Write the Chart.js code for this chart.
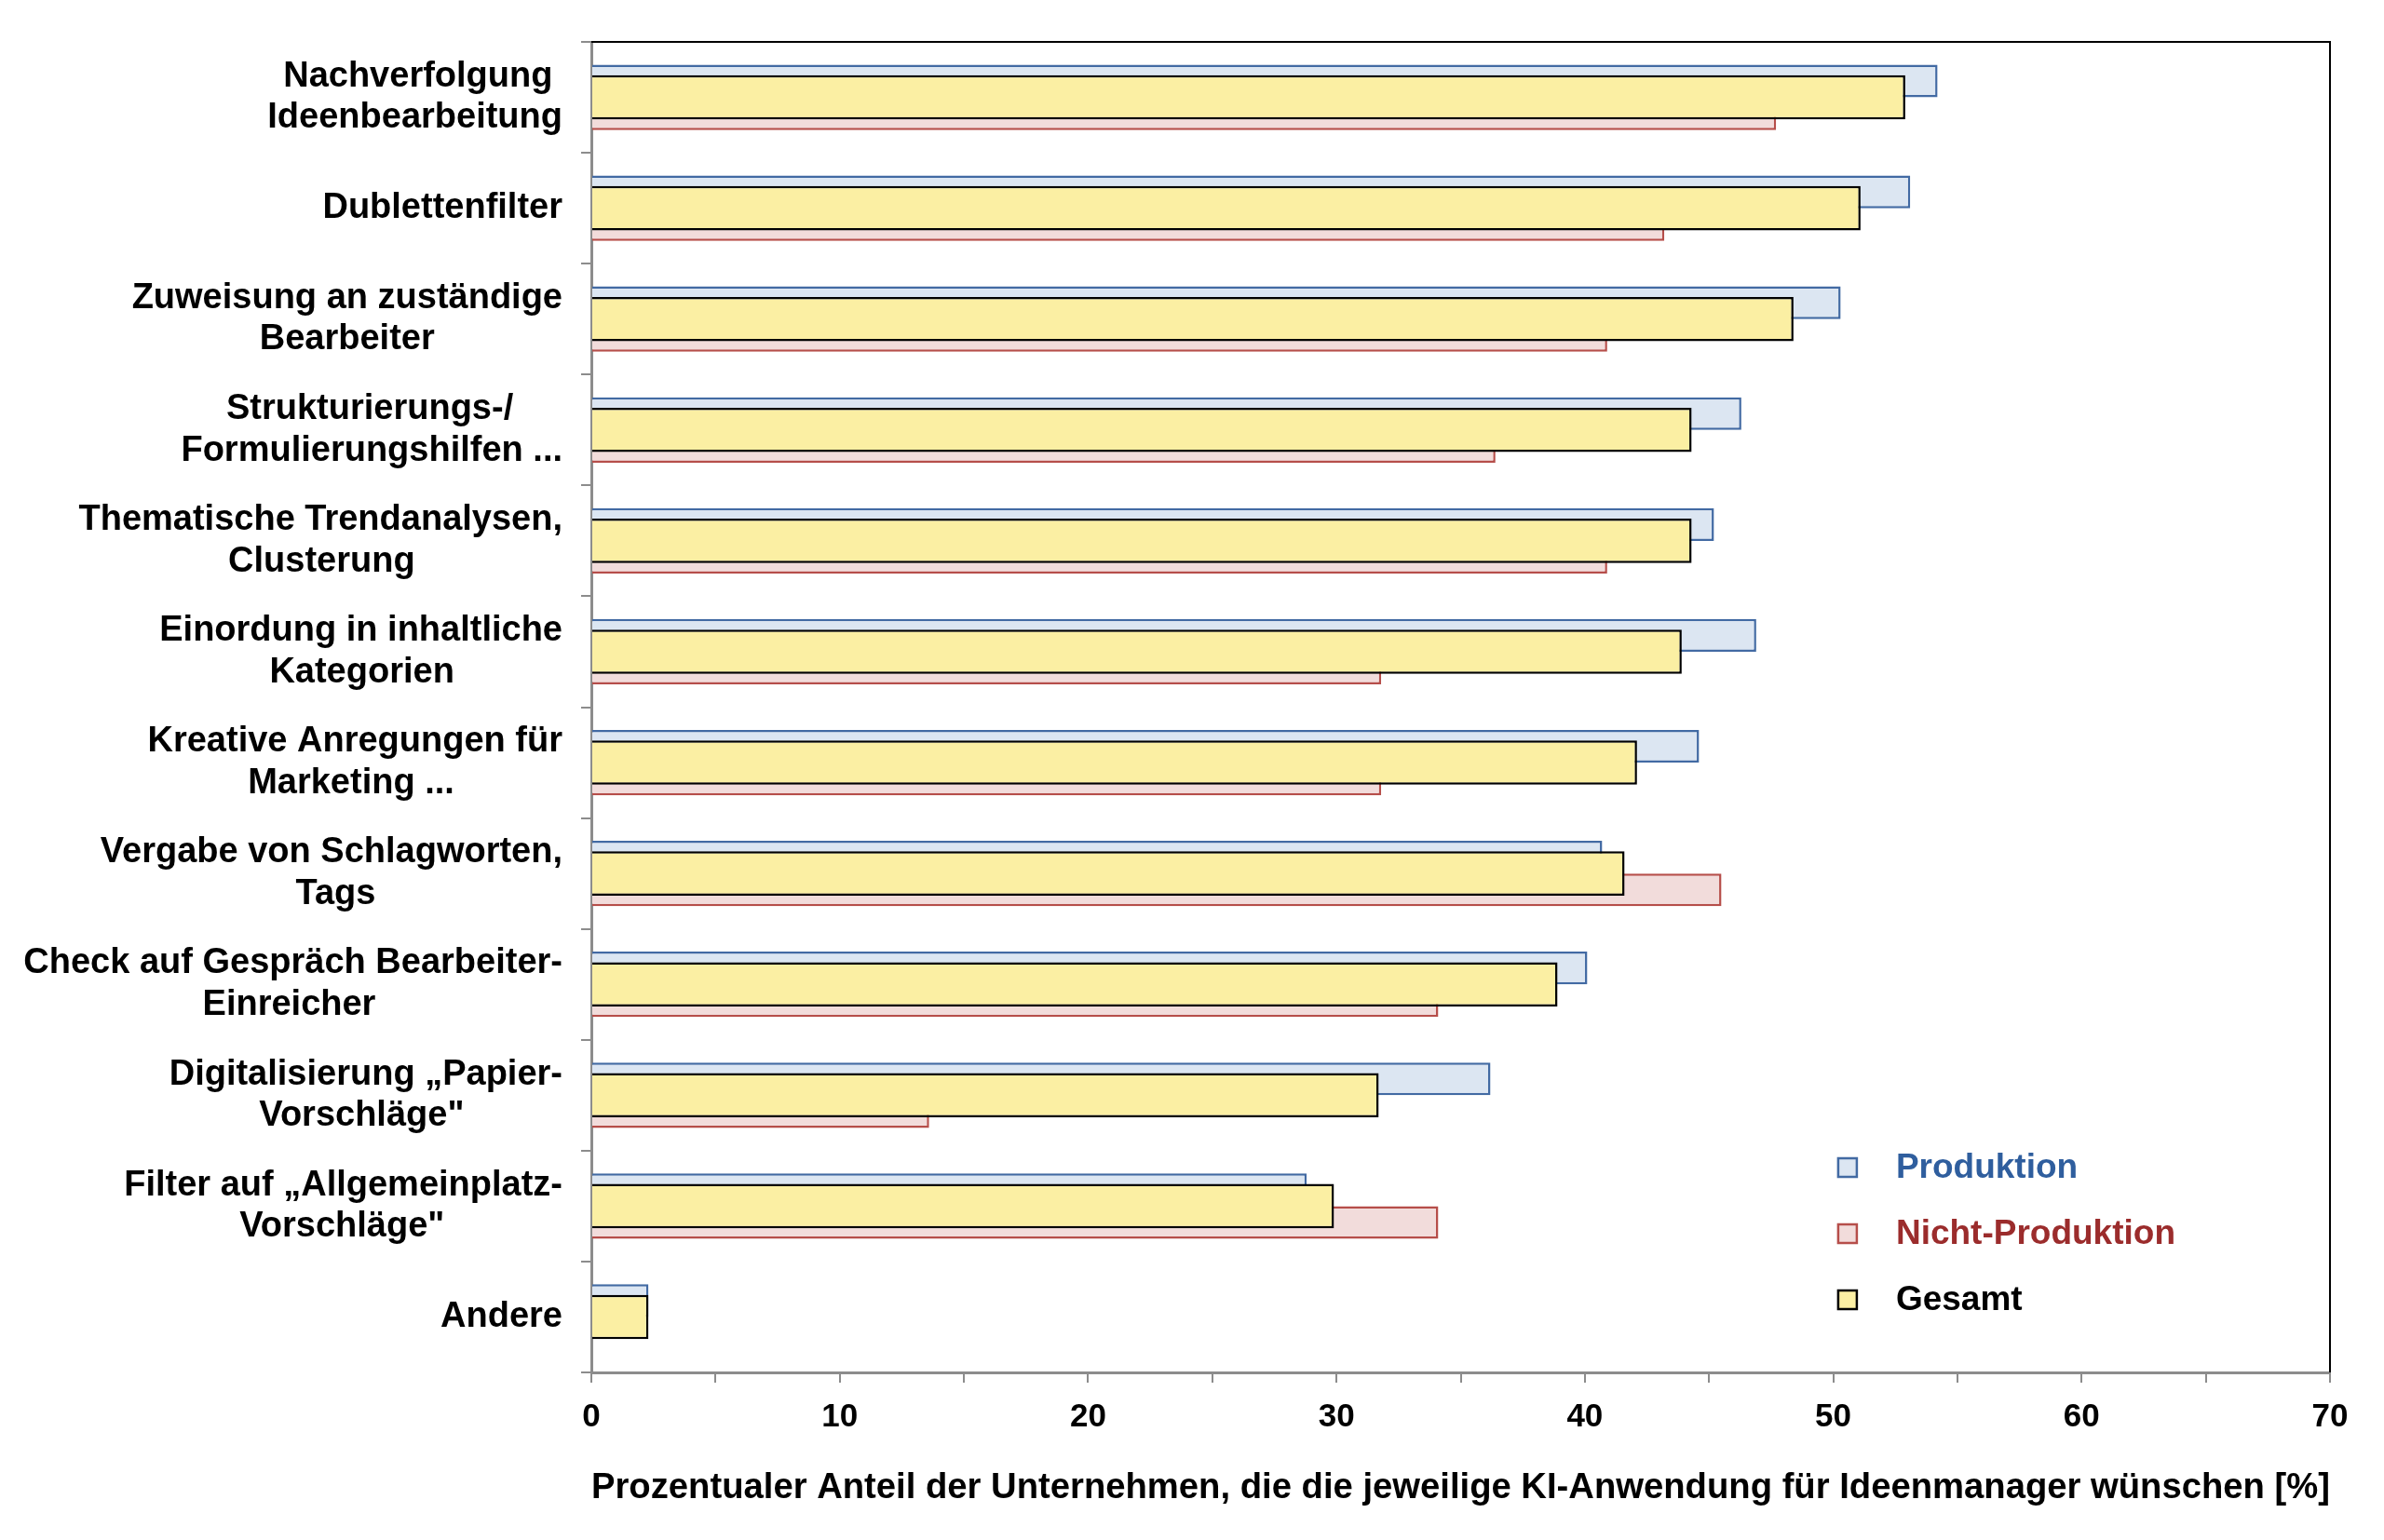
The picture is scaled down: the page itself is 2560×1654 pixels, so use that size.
<!DOCTYPE html>
<html>
<head>
<meta charset="utf-8">
<script src="https://cdn.jsdelivr.net/npm/chart.js@4.4.1/dist/chart.umd.min.js"></script>
<style>
  body { margin: 0; background: #ffffff; }
  #wrap { width: 2560px; height: 1654px; }
</style>
</head>
<body>
<div id="wrap"><canvas id="myChart" width="2560" height="1654"></canvas></div>
<script>
// categories, two lines each where the original wraps
var categories = [
    ['Nachverfolgung', 'Ideenbearbeitung'],
    ['Dublettenfilter'],
    ['Zuweisung an zuständige', 'Bearbeiter'],
    ['Strukturierungs-/', 'Formulierungshilfen ...'],
    ['Thematische Trendanalysen,', 'Clusterung'],
    ['Einordung in inhaltliche', 'Kategorien'],
    ['Kreative Anregungen für', 'Marketing ...'],
    ['Vergabe von Schlagworten,', 'Tags'],
    ['Check auf Gespräch Bearbeiter-', 'Einreicher'],
    ['Digitalisierung \u201ePapier-', 'Vorschläge"'],
    ['Filter auf \u201eAllgemeinplatz-', 'Vorschläge"'],
    ['Andere']
];

var seriesNames = ['Produktion', 'Nicht-Produktion', 'Gesamt'];

var produktion      = [54.2, 53.1, 50.3, 46.3, 45.2, 46.9, 44.6, 40.7, 40.1, 36.2, 28.8, 2.3];
var nichtProduktion = [47.7, 43.2, 40.9, 36.4, 40.9, 31.8, 31.8, 45.5, 34.1, 13.6, 34.1, 0];
var gesamt          = [52.9, 51.1, 48.4, 44.3, 44.3, 43.9, 42.1, 41.6, 38.9, 31.7, 29.9, 2.3];

var xTicks = [0, 10, 20, 30, 40, 50, 60, 70];

var axisTitle = 'Prozentualer Anteil der Unternehmen, die die jeweilige KI-Anwendung für Ideenmanager wünschen [%]';

var FONT = '"Liberation Sans", Arial, sans-serif';
var labelFont = { family: FONT, size: 38, weight: 'bold', lineHeight: 1.17 };

// lines of a label are centred on each other, the block is right aligned:
// pad the shorter line with trailing spaces
var measure = document.createElement('canvas').getContext('2d');
measure.font = 'bold 38px ' + FONT;
function centreLines(lines) {
    if (lines.length < 2) return lines;
    var widths = lines.map(function (l) { return measure.measureText(l).width; });
    var maxW = Math.max.apply(null, widths);
    var sp = measure.measureText(' ').width;
    return lines.map(function (l, i) {
        var n = Math.round((maxW - widths[i]) / 2 / sp);
        return l + ' '.repeat(n);
    });
}
var yLabels = categories.map(centreLines);

var legendColors = ['#2F5E9E', '#9B2C2C', '#000000'];

// legend inside the plot, bottom right
var legendPlugin = {
    id: 'insideLegend',
    afterDraw: function (chart) {
        var c = chart.ctx;
        var area = chart.chartArea;
        var x = chart.scales.x.getPixelForValue(50.2);
        var rows = [220, 149, 78];
        c.save();
        chart.data.datasets.forEach(function (ds, i) {
            var y = area.bottom - rows[i];
            c.fillStyle = ds.backgroundColor;
            c.fillRect(x, y - 10, 20, 20);
            c.lineWidth = 2.5;
            c.strokeStyle = ds.borderColor;
            c.strokeRect(x, y - 10, 20, 20);
            c.fillStyle = legendColors[i];
            c.font = 'bold 37px ' + FONT;
            c.textBaseline = 'middle';
            c.textAlign = 'left';
            c.fillText(ds.label, x + 62, y + 1);
        });
        c.restore();
    }
};

// black frame on top and right of the plot
var framePlugin = {
    id: 'frame',
    afterDatasetsDraw: function (chart) {
        var c = chart.ctx;
        var a = chart.chartArea;
        c.save();
        c.strokeStyle = '#000000';
        c.lineWidth = 2;
        c.beginPath();
        c.moveTo(a.left, a.top);
        c.lineTo(a.right, a.top);
        c.lineTo(a.right, a.bottom);
        c.stroke();
        c.restore();
    }
};

var ctx = document.getElementById('myChart').getContext('2d');
var chart = new Chart(ctx, {
    type: 'bar',
    data: {
        labels: yLabels,
        datasets: [{
            label: seriesNames[0],
            data: produktion,
            backgroundColor: '#DCE6F2',
            borderColor: '#426AA3',
            borderWidth: 2.5,
            categoryPercentage: 0.59,
            barPercentage: 1.0,
            order: 1
        }, {
            label: seriesNames[1],
            data: nichtProduktion,
            backgroundColor: '#F2DCDB',
            borderColor: '#B64E4A',
            borderWidth: 2.5,
            categoryPercentage: 0.59,
            barPercentage: 1.0,
            order: 2
        }, {
            label: seriesNames[2],
            data: gesamt,
            backgroundColor: '#FBEFA3',
            borderColor: '#000000',
            borderWidth: 2.5,
            grouped: false,
            categoryPercentage: 1.0,
            barPercentage: 0.4,
            order: 0
        }]
    },
    options: {
        indexAxis: 'y',
        responsive: false,
        devicePixelRatio: 1,
        animation: false,
        layout: { padding: { top: 45, right: 58, bottom: 0, left: 0 } },
        plugins: {
            legend: { display: false },
            tooltip: { enabled: false }
        },
        scales: {
            x: {
                min: 0,
                max: 70,
                afterBuildTicks: function (scale) {
                    var t = [];
                    for (var v = 0; v <= 70; v += 5) t.push({ value: v });
                    scale.ticks = t;
                },
                afterFit: function (scale) { scale.height = 180; },
                grid: {
                    drawOnChartArea: false,
                    drawTicks: true,
                    tickLength: 11,
                    color: '#8C8C8C',
                    lineWidth: 2
                },
                border: { display: true, color: '#8C8C8C', width: 3 },
                ticks: {
                    autoSkip: false,
                    maxRotation: 0,
                    padding: 16,
                    color: '#000000',
                    font: { family: FONT, size: 35, weight: 'bold' },
                    callback: function (v) { return xTicks.indexOf(v) >= 0 ? String(v) : ''; }
                },
                title: {
                    display: true,
                    text: axisTitle,
                    color: '#000000',
                    font: { family: FONT, size: 38.5, weight: 'bold', lineHeight: 1.2 },
                    padding: { top: 0, bottom: 33 }
                }
            },
            y: {
                afterFit: function (scale) { scale.width = 635; },
                grid: {
                    drawOnChartArea: false,
                    drawTicks: true,
                    tickLength: 11,
                    color: '#8C8C8C',
                    lineWidth: 2
                },
                border: { display: true, color: '#8C8C8C', width: 3 },
                ticks: {
                    padding: 20,
                    color: '#000000',
                    font: labelFont
                }
            }
        }
    },
    plugins: [framePlugin, legendPlugin]
});
</script>
</body>
</html>
